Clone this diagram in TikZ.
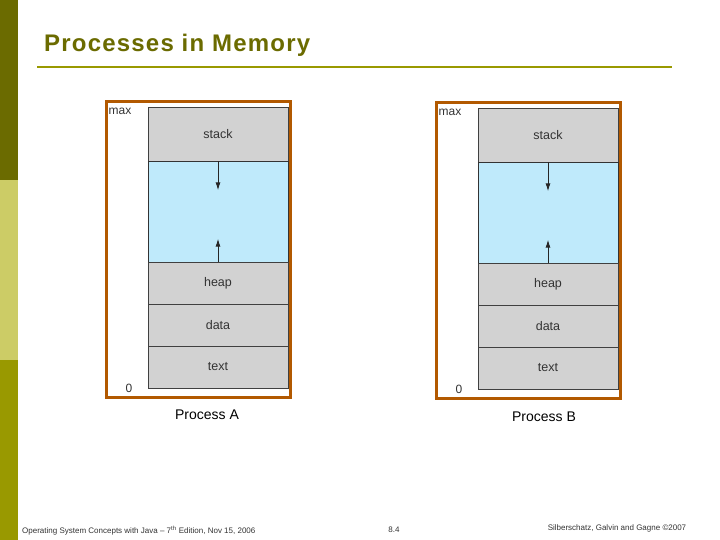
\documentclass[tikz,border=0pt]{standalone}
\usepackage{fontspec}
\setmainfont{Liberation Sans}
\usetikzlibrary{arrows.meta}
\definecolor{oliveA}{HTML}{6B6B00}
\definecolor{oliveB}{HTML}{CCCC66}
\definecolor{oliveC}{HTML}{999900}
\begin{document}
\begin{tikzpicture}[x=1pt,y=-1pt,
  seg/.style={draw=black!75,line width=0.7pt,fill=gray!35,minimum width=140pt,inner sep=0pt,font=\fontsize{12.5}{14}\selectfont,text=black!80},
  gap/.style={seg,fill=cyan!25!white,draw=black!80},
  frame/.style={draw=orange!70!black,line width=3pt},
  lbl/.style={font=\fontsize{12}{14}\selectfont,inner sep=0pt},
  foot/.style={font=\fontsize{8}{10}\selectfont,inner sep=0pt,text=black!80},
  arr/.style={-{Latex[length=8pt,width=5pt]},line width=1pt,draw=black!85}]
\useasboundingbox (0,0) rectangle (720,540);
\fill[white] (0,0) rectangle (720,540);
\fill[oliveA] (0,0) rectangle (18,180);
\fill[oliveB] (0,180) rectangle (18,360);
\fill[oliveC] (0,360) rectangle (18,540);
\node[anchor=west,inner sep=0pt,font=\fontsize{24}{28}\selectfont\bfseries\addfontfeature{LetterSpace=5},text=oliveA] (title) at (44,45) {Processes in Memory};
\draw[oliveC,line width=2pt] (37,67) -- (672,67);
\foreach \dx/\dy/\nm in {0/0/A,330/1/B}{
  \begin{scope}[shift={(\dx,\dy)}]
  \node[frame,minimum width=184pt,minimum height=295pt,inner sep=0pt] (fr\nm) at (198,249.5) {};
  \node[seg,minimum height=54pt] (stack\nm) at (218,134) {stack};
  \node[gap,minimum height=101pt] (free\nm) at (218,211.5) {};
  \node[seg,minimum height=42pt] (heap\nm) at (218,283) {heap};
  \node[seg,minimum height=42pt] (data\nm) at (218,325) {data};
  \node[seg,minimum height=42pt] (text\nm) at (218,367) {text};
  \draw[arr] (stack\nm.south) -- ++(0,29);
  \draw[arr] (heap\nm.north) -- ++(0,-23);
  \node[lbl,text=black!80] (max\nm) at (120,111) {max};
  \node[lbl,text=black!80] (zero\nm) at (129,388) {0};
  \end{scope}
}
\node[lbl,font=\fontsize{14}{16}\selectfont] (pA) at (207,415) {Process A};
\node[lbl,font=\fontsize{14}{16}\selectfont] (pB) at (544,417) {Process B};
\node[foot,anchor=west] (f1) at (22,531) {Operating System Concepts with Java -- 7\textsuperscript{th} Edition, Nov 15, 2006};
\node[foot] (f2) at (394,530) {8.4};
\node[foot] (f3) at (617,528) {Silberschatz, Galvin and Gagne \textcopyright 2007};
\end{tikzpicture}
\end{document}
